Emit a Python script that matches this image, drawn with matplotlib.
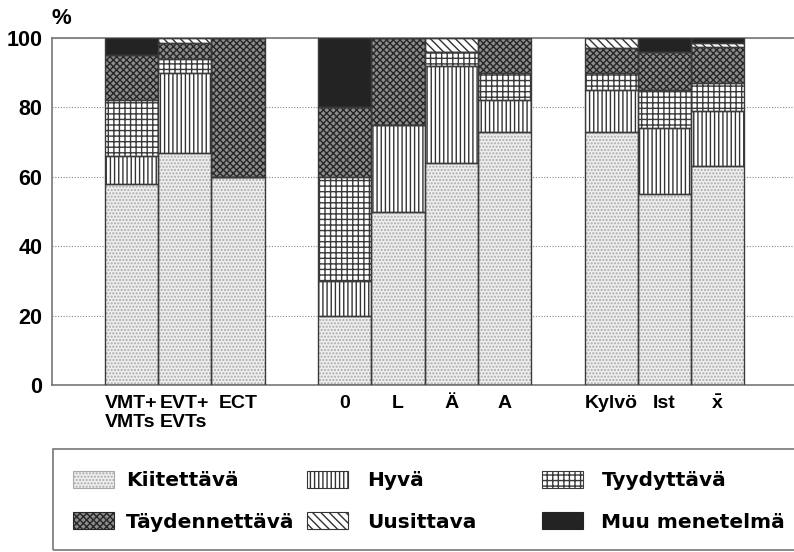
import matplotlib
matplotlib.use('Agg')
import matplotlib.pyplot as plt
from matplotlib.patches import Patch, Rectangle

plt.rcParams['font.family'] = ['Liberation Sans', 'DejaVu Sans']
plt.rcParams['font.weight'] = 'bold'
plt.rcParams['hatch.linewidth'] = 1.0
plt.rcParams['mathtext.fontset'] = 'custom'
plt.rcParams['mathtext.bf'] = 'Liberation Sans:bold'
plt.rcParams['mathtext.rm'] = 'Liberation Sans:bold'

# bar labels and their slots (empty slots make the gaps between groups)
labels = ['VMT+\nVMTs', 'EVT+\nEVTs', 'ECT', '0', 'L', 'Ä', 'A', 'Kylvö', 'Ist', r'$\bar{\mathbf{x}}$']
slots = [0, 1, 2, 4, 5, 6, 7, 9, 10, 11]

# percentages, bottom to top
kiitettava = [58, 67, 60, 20, 50, 64, 73, 73, 55, 63]
hyva = [8, 23, 0, 10, 25, 28, 9, 12, 19, 16]
tyydyttava = [16, 4, 0, 30, 0, 4, 8, 5, 11, 8]
taydennettava = [13, 4.5, 40, 20, 25, 0, 10, 7, 11, 10.5]
uusittava = [0, 1.5, 0, 0, 0, 4, 0, 3, 0, 1]
muu = [5, 0, 0, 20, 0, 0, 0, 0, 4, 1.5]

series = [
    ('Kiitettävä', kiitettava, '#eeeeee', '#aaaaaa', '.....'),
    ('Hyvä', hyva, 'white', '#333333', '||||'),
    ('Tyydyttävä', tyydyttava, 'white', '#3a3a3a', '+++'),
    ('Täydennettävä', taydennettava, '#8c8c8c', '#262626', 'xxxxx'),
    ('Uusittava', uusittava, 'white', '#333333', '\\\\\\\\'),
    ('Muu menetelmä', muu, '#232323', '#232323', None),
]

fig = plt.figure(figsize=(7.94, 5.52), dpi=100)
ax = fig.add_axes([52 / 794, 1 - 385 / 552, 1 - 52 / 794, (385 - 38) / 552])

bottom = [0] * len(slots)
handles = {}
for name, vals, face, hcol, hatch in series:
    # hatch colour follows edgecolor, so draw fill and outline separately
    ax.bar(slots, vals, width=1.0, bottom=bottom, color=face, edgecolor=hcol,
           hatch=hatch, linewidth=0, zorder=2)
    ax.bar(slots, vals, width=1.0, bottom=bottom, fill=False,
           edgecolor='#3a3a3a', linewidth=1.0, zorder=3)
    handles[name] = Patch(facecolor=face, edgecolor=hcol, hatch=hatch, linewidth=0.8)
    bottom = [b + v for b, v in zip(bottom, vals)]

ax.set_xlim(-1.49, 12.43)
ax.set_ylim(0, 100)
ax.set_yticks([0, 20, 40, 60, 80, 100])
ax.set_xticks(slots)
ax.set_xticklabels(labels, multialignment='left')
ax.tick_params(axis='both', length=0, labelsize=14)
ax.tick_params(axis='y', pad=7, labelsize=15.5)
ax.tick_params(axis='x', pad=7)
ax.yaxis.grid(True, linestyle=(0, (1, 1.5)), color='#888888', linewidth=0.8, zorder=0)
ax.set_axisbelow(True)

for s in ['left', 'top', 'bottom']:
    ax.spines[s].set_color('#777777')
    ax.spines[s].set_linewidth(1.2)
ax.spines['right'].set_visible(False)

fig.text(51 / 794, 1 - 19 / 552, '%', fontsize=16, fontweight='bold', ha='left', va='center')

# legend: box plus three columns at fixed places
fig.patches.append(Rectangle((53 / 794, 2 / 552), 760 / 794, 101 / 552,
                             transform=fig.transFigure, fill=False,
                             edgecolor='#777777', linewidth=1.2))
columns = [(['Kiitettävä', 'Täydennettävä'], 73, 0.6),
           (['Hyvä', 'Uusittava'], 307, 0.95),
           (['Tyydyttävä', 'Muu menetelmä'], 542, 0.9)]
for names, x0, tpad in columns:
    fig.legend([handles[n] for n in names], names, loc='upper left',
               bbox_to_anchor=(x0 / 794, 1 - 471 / 552), frameon=False,
               prop={'family': 'DejaVu Sans', 'weight': 'bold', 'size': 14.5},
               handlelength=2.05, handleheight=0.9, handletextpad=tpad,
               labelspacing=1.1, borderpad=0, borderaxespad=0)

fig.savefig('out.png', dpi=100)
